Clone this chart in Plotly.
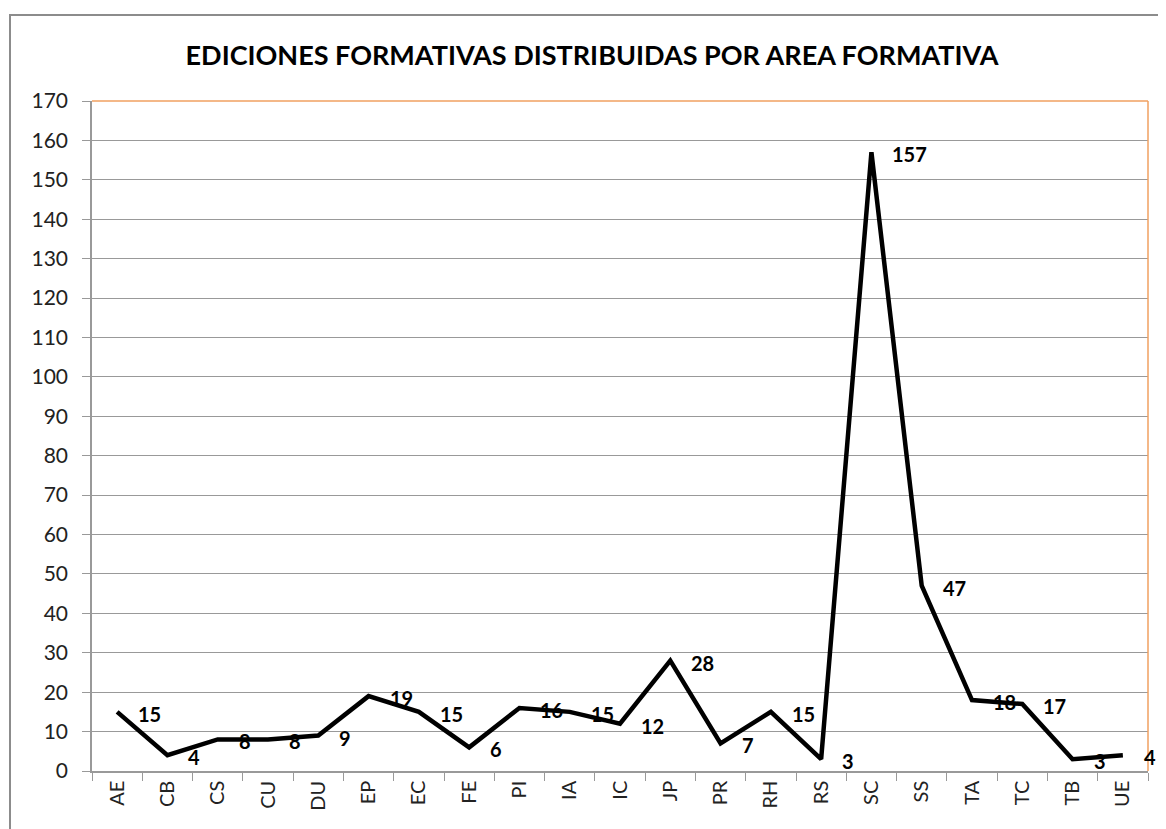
import plotly.graph_objects as go

# data
areas = ['AE', 'CB', 'CS', 'CU', 'DU', 'EP', 'EC', 'FE', 'PI', 'IA', 'IC',
         'JP', 'PR', 'RH', 'RS', 'SC', 'SS', 'TA', 'TC', 'TB', 'UE']
ediciones = [15, 4, 8, 8, 9, 19, 15, 6, 16, 15, 12,
             28, 7, 15, 3, 157, 47, 18, 17, 3, 4]
y_ticks = list(range(0, 171, 10))

font_fam = 'Lato, Open Sans, sans-serif'

fig = go.Figure()
fig.add_trace(go.Scatter(
    x=areas, y=ediciones, mode='lines',
    line=dict(color='black', width=4.5),
    showlegend=False, hoverinfo='x+y'))

# data labels, to the right of each point
for a, v in zip(areas, ediciones):
    fig.add_annotation(x=a, y=v, text=str(v), showarrow=False,
                       xanchor='left', yanchor='middle', xshift=19, yshift=-2,
                       font=dict(family=font_fam, size=20, color='black', weight='bold'))

# plot area top/right border (orange)
fig.add_shape(type='line', xref='paper', yref='paper', x0=0, x1=1, y0=1, y1=1,
              line=dict(color='#F0A060', width=1.5))
fig.add_shape(type='line', xref='paper', yref='paper', x0=1, x1=1, y0=0, y1=1,
              line=dict(color='#F0A060', width=1.5))

# page has an 8px body margin, so the figure sits 8px right/down
FW, FH = 1166, 829
L, T = 84, 93
R = FW - (1148 - 8)
B = FH - (771 - 8)
W, H = FW - L - R, FH - T - B

# chart frame (gray), partly outside the picture
fig.add_shape(type='rect', xref='paper', yref='paper',
              x0=(2 - L) / W, x1=1 + (FW + 4 - (FW - R)) / W,
              y0=-(FH + 4 - (FH - B)) / H, y1=1 + (T - 7) / H,
              line=dict(color='#8c8c8c', width=2), layer='below')

fig.update_layout(
    width=FW, height=FH,
    margin=dict(l=L, r=R, t=T, b=B),
    paper_bgcolor='white', plot_bgcolor='white',
    font=dict(family=font_fam, color='#222222'),
    title=dict(text='<b>EDICIONES FORMATIVAS DISTRIBUIDAS POR AREA FORMATIVA</b>',
               x=584 / FW, xanchor='center', y=1 - 48 / FH, yanchor='middle',
               font=dict(size=27, color='black', family=font_fam)),
    xaxis=dict(
        type='category', tickangle=-90, tickson='boundaries',
        ticks='outside', ticklen=8, tickcolor='#999999',
        showline=True, linecolor='#999999', linewidth=1.5,
        showgrid=False, tickfont=dict(size=20, color='#222222'),
        range=[-0.5, len(areas) - 0.5]),
    yaxis=dict(
        range=[0, 170], tickvals=y_ticks,
        ticks='outside', ticklen=8, tickcolor='#999999',
        ticklabelstandoff=10,
        showline=True, linecolor='#999999', linewidth=1.5,
        showgrid=True, gridcolor='#999999', gridwidth=1,
        zeroline=False, tickfont=dict(size=21, color='#222222')),
)

fig.write_html('out.html')
